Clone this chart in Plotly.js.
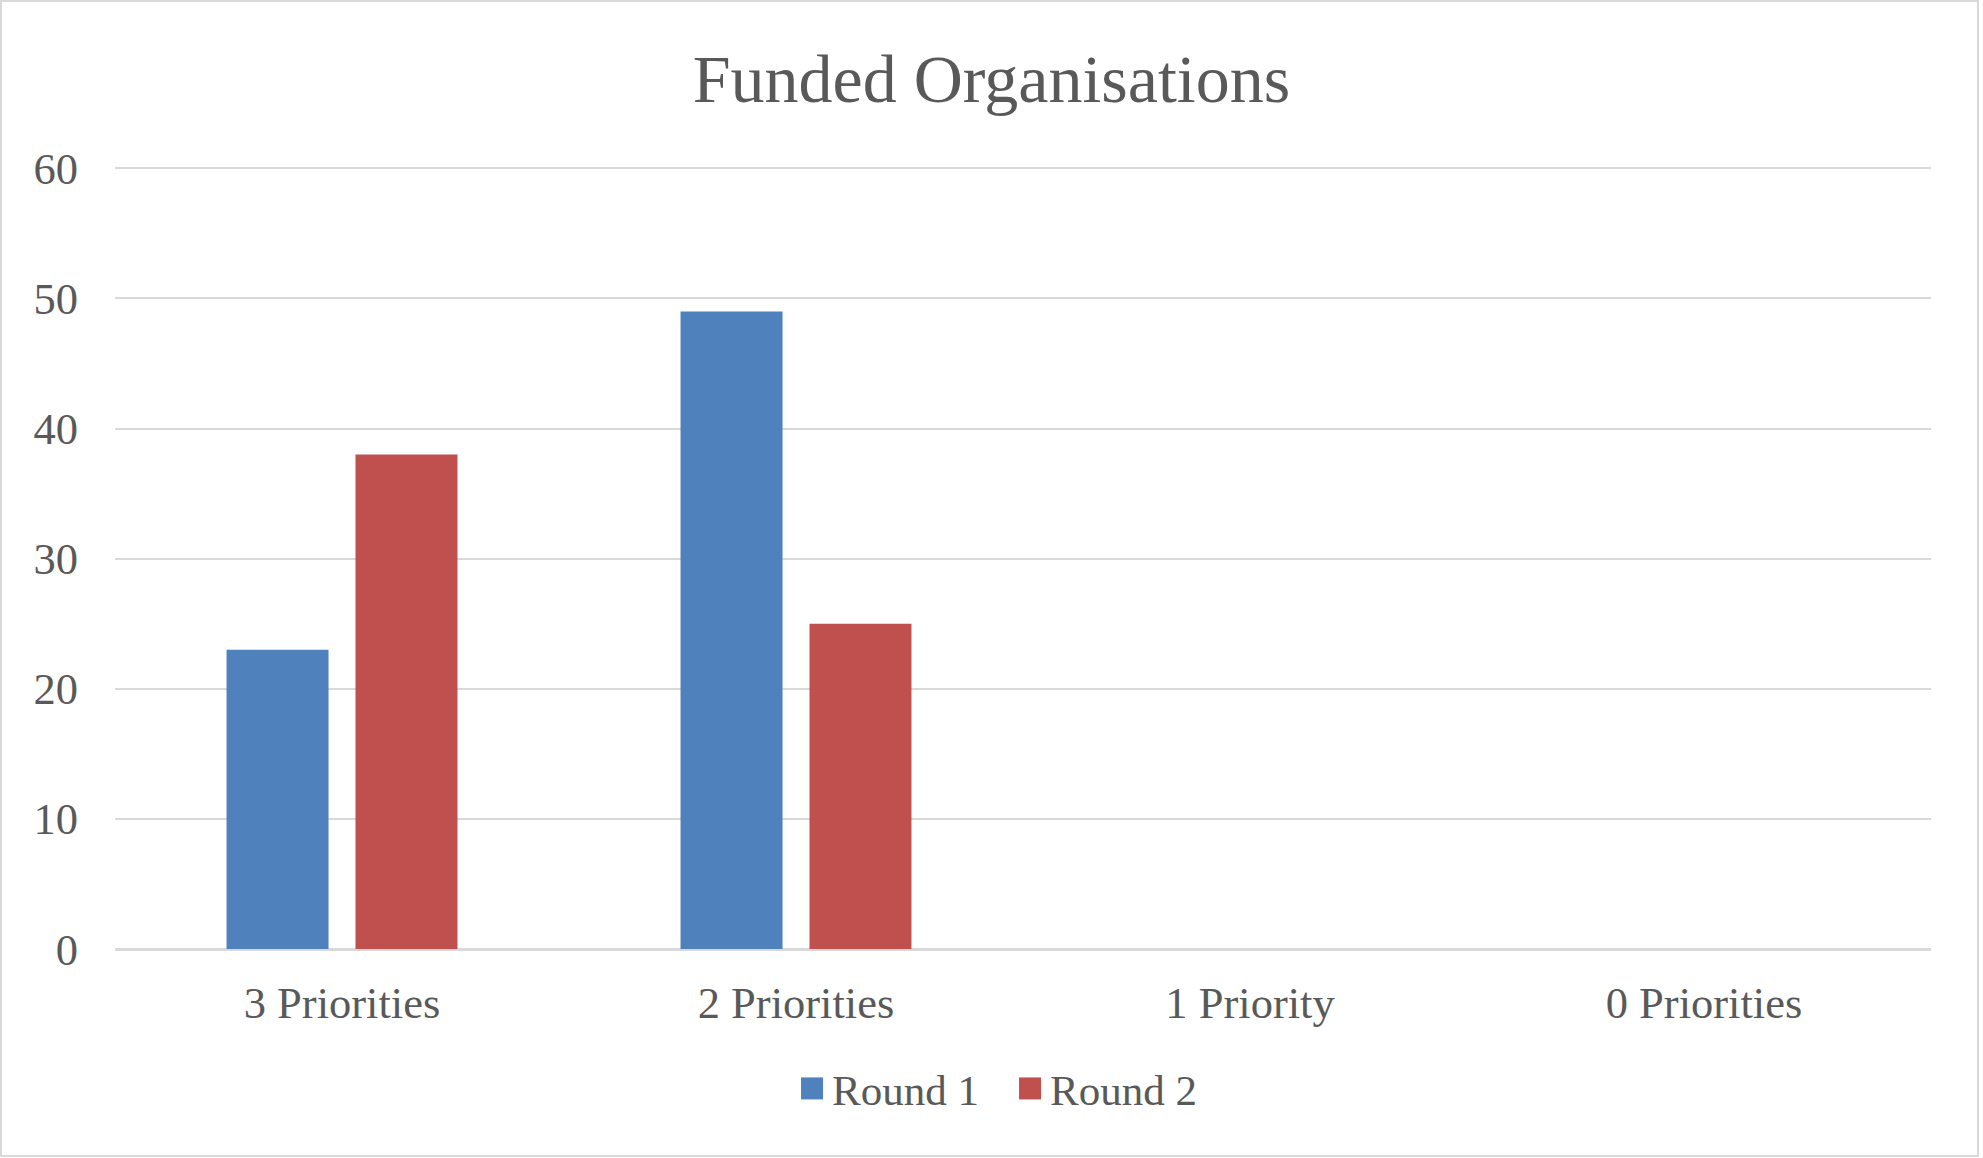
<!DOCTYPE html>
<html>
<head>
<meta charset="utf-8">
<script src="https://cdn.plot.ly/plotly-3.0.1.min.js"></script>
<style>
  html, body { margin: 0; padding: 0; background: #ffffff; }
  #chart { width: 1975px; height: 1153px; border: 2px solid #d9d9d9; }
</style>
</head>
<body>
<div id="chart"></div>
<script>
const categories = ["3 Priorities", "2 Priorities", "1 Priority", "0 Priorities"];
const round1 = [23, 49, 0, 0];
const round2 = [38, 25, 0, 0];
const seriesNames = ["Round 1", "Round 2"];
const yTicks = [0, 10, 20, 30, 40, 50, 60];
const chartTitle = "Funded Organisations";

const FONT = "Liberation Serif, Times New Roman, serif";
const TXT = "#595959";

const traces = [
  { type: "bar", name: seriesNames[0], x: categories, y: round1, marker: { color: "#4F81BD" }, hoverinfo: "none" },
  { type: "bar", name: seriesNames[1], x: categories, y: round2, marker: { color: "#C0504D" }, hoverinfo: "none" }
];

const layout = {
  width: 1975, height: 1153,
  paper_bgcolor: "#ffffff", plot_bgcolor: "#ffffff",
  margin: { l: 113, r: 46, t: 165, b: 206, pad: 0 },
  font: { family: FONT, color: TXT, size: 44 },
  title: { text: chartTitle, font: { family: FONT, size: 68, color: TXT }, x: 0.501, xref: "container", xanchor: "center", y: 0.934, yref: "container", yanchor: "middle" },
  barmode: "group", bargap: 0.432, bargroupgap: 0.209,
  xaxis: {
    type: "category", showgrid: false, showline: false, zeroline: false, ticks: "",
    tickfont: { family: FONT, size: 44.5, color: TXT }, ticklabelstandoff: 23, fixedrange: true
  },
  yaxis: {
    range: [0, 60.1], tickvals: yTicks, ticktext: yTicks.map(String), showgrid: true, gridcolor: "#d9d9d9", gridwidth: 2,
    zeroline: true, zerolinecolor: "#d9d9d9", zerolinewidth: 3, showline: false, ticks: "",
    tickfont: { family: FONT, size: 44.5, color: TXT }, ticklabelstandoff: 36, fixedrange: true
  },
  showlegend: true,
  legend: {
    orientation: "h", xref: "container", x: 0.5104, xanchor: "center", yref: "container", y: 0.0577, yanchor: "middle",
    entrywidth: 173, entrywidthmode: "pixels",
    font: { family: FONT, size: 43, color: TXT }, itemclick: false, itemdoubleclick: false
  }
};

Plotly.newPlot("chart", traces, layout, { staticPlot: true, displayModeBar: false }).then(function (gd) {
  gd.querySelectorAll(".legend .legendpoints path").forEach(function (p) {
    p.setAttribute("d", "M11,11H-11V-11H11Z");
  });
});
</script>
</body>
</html>
